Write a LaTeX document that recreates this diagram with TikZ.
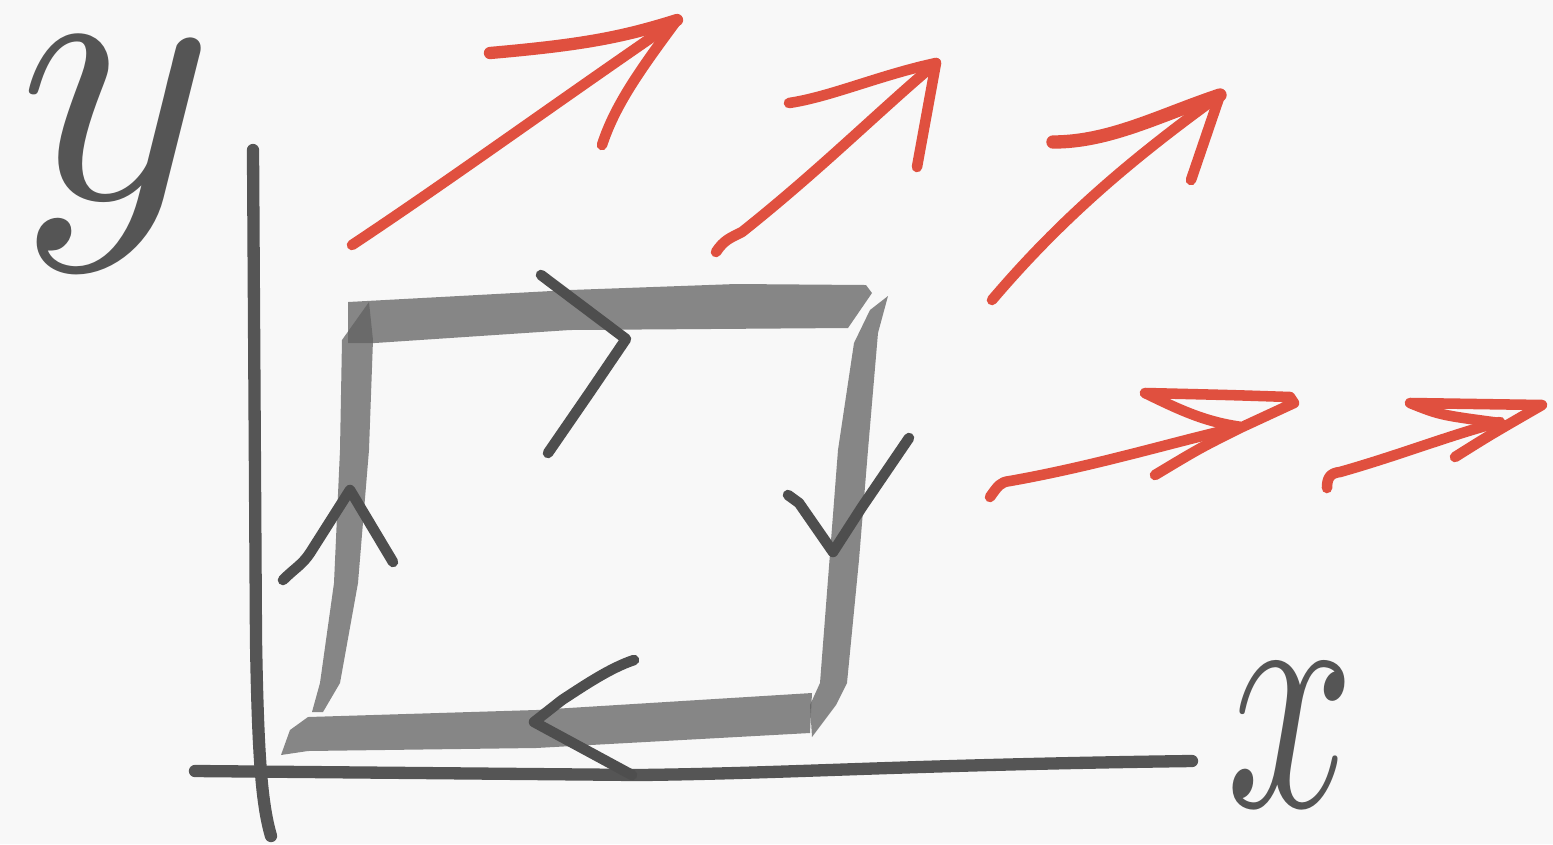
\documentclass[tikz,border=0pt]{standalone}
\DeclareFontShape{OML}{cmm}{m}{it}{<->cmmi10}{}
\definecolor{bg}{HTML}{F8F8F8}
\definecolor{ink}{HTML}{555555}
\definecolor{redink}{HTML}{E0503F}
\begin{document}
\begin{tikzpicture}[x=0.01cm,y=-0.01cm,
  axis/.style={draw=ink,line width=3.5pt,line cap=round,line join=round},
  chev/.style={draw=ink!92!black,line width=3pt,line cap=round,line join=round},
  redarrow/.style={draw=redink,line width=3pt,line cap=round,line join=round},
  brush/.style={fill=black!62,fill opacity=0.75,draw=none},
  letter/.style={text=ink,inner sep=4pt}]
\fill[bg] (0,0) rectangle (1553,844);
\useasboundingbox (0,0) rectangle (1553,844);

% letters
\node[letter,anchor=base west,font=\fontsize{106}{110}\selectfont] (ylab) at (4,198) {$y$};
\node[letter,anchor=base west,xscale=0.68,font=\fontsize{94}{96}\selectfont] (xlab) at (1216,806) {$x$};

% axes
\draw[axis] (253,150) -- (256,640) .. controls (258,760) and (262,805) .. (271,836);
\draw[axis] (195,771) -- (640,775) .. controls (800,773) and (900,765) .. (1192,761);

% brush square
\fill[brush] (348,302) -- (570,290) -- (736,284) -- (866,285) -- (872,293) -- (848,328) -- (570,330) -- (375,343) -- (348,343) -- cycle;
\fill[brush] (342,340) -- (369,302) -- (373,340) -- (369,450) -- (358,583) -- (340,683) -- (323,712) -- (312,712) -- (320,683) -- (334,583) -- (340,450) -- cycle;
\fill[brush] (888,296) -- (878,333) -- (868,450) -- (859,560) -- (847,683) -- (836,705) -- (812,737) -- (810,705) -- (820,683) -- (838,450) -- (854,343) -- (870,310) -- cycle;
\fill[brush] (281,755) -- (290,730) -- (308,717) -- (536,710) -- (812,693) -- (810,733) -- (536,748) -- (308,751) -- cycle;

% direction chevrons
\draw[chev] (541,275) -- (626,339) -- (590,392) -- (548,453);
\draw[chev] (788,495) -- (799,503) -- (833,552) -- (862,507) -- (909,438);
\draw[chev] (634,660) .. controls (610,668) and (585,685) .. (562,700) -- (534,722) -- (632,775);
\draw[chev] (283,580) .. controls (295,568) and (302,565) .. (310,553) -- (350,490) -- (393,562);

% red arrows
\draw[redarrow] (352,245) .. controls (450,180) and (560,100) .. (677,20);
\draw[redarrow,line width=3.5pt] (490,53) .. controls (580,45) and (620,38) .. (677,20);
\draw[redarrow] (677,20) .. controls (640,70) and (615,105) .. (602,145);

\draw[redarrow] (716,252) .. controls (724,240) and (730,238) .. (742,232) .. controls (820,170) and (880,110) .. (936,63);
\draw[redarrow] (789,103) .. controls (830,97) and (880,75) .. (936,63);
\draw[redarrow] (936,63) -- (917,167);

\draw[redarrow] (992,300) .. controls (1060,220) and (1130,160) .. (1220,95);
\draw[redarrow,line width=3.8pt] (1053,142) .. controls (1110,142) and (1160,115) .. (1220,95);
\draw[redarrow] (1220,95) -- (1191,180);

\draw[redarrow] (990,497) .. controls (998,486) and (1000,482) .. (1010,481) .. controls (1100,465) and (1180,440) .. (1240,427);
\draw[redarrow] (1155,475) .. controls (1200,448) .. (1240,428) -- (1294,403) -- (1290,397) .. controls (1230,395) .. (1145,393) .. controls (1180,410) and (1205,422) .. (1242,427);

\draw[redarrow] (1327,488) .. controls (1327,478) and (1330,473) .. (1340,472) .. controls (1400,455) and (1450,435) .. (1500,422);
\draw[redarrow] (1455,457) .. controls (1490,435) .. (1542,405) -- (1410,403) .. controls (1440,415) .. (1500,423);
\end{tikzpicture}
\end{document}
